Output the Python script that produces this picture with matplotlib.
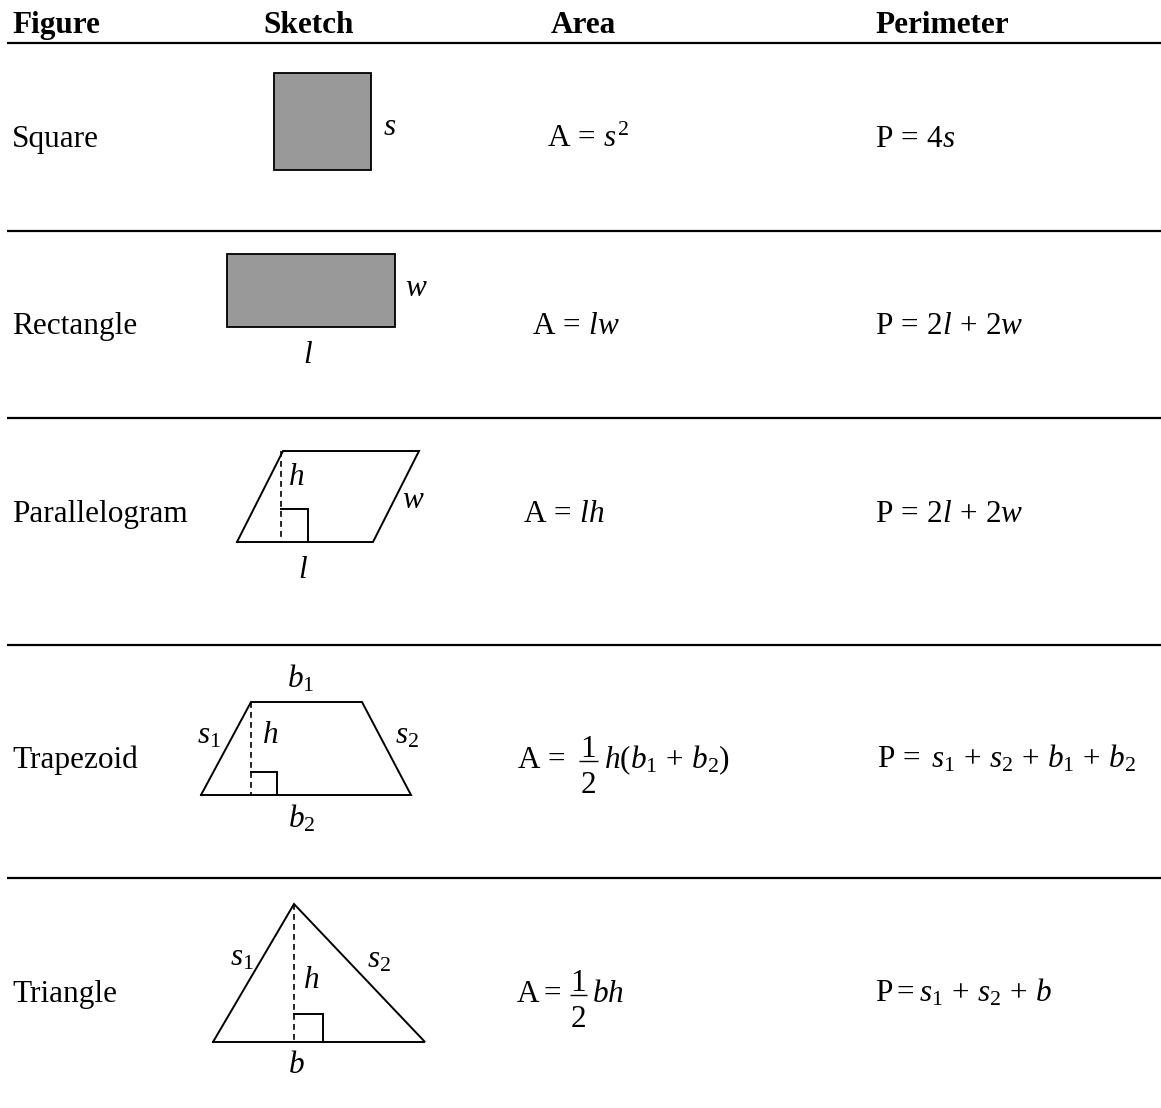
import matplotlib
matplotlib.use("Agg")
import matplotlib.pyplot as plt

plt.rcParams['font.family'] = ['Liberation Serif', 'DejaVu Serif']
plt.rcParams['mathtext.fontset'] = 'custom'
plt.rcParams['mathtext.rm'] = 'Liberation Serif'
plt.rcParams['mathtext.it'] = 'Liberation Serif:italic'
plt.rcParams['mathtext.bf'] = 'Liberation Serif:bold'

# table content
headers = ['Figure', 'Sketch', 'Area', 'Perimeter']
header_x = [12, 263, 551, 875]
figures = ['Square', 'Rectangle', 'Parallelogram', 'Trapezoid', 'Triangle']
row_baseline = [147, 334, 522, 768, 1002]
# area formulas: plain ones, or (left part, numerator, denominator, right part)
areas = [r'$\mathrm{A}\,=\,s^{2}$',
         r'$\mathrm{A}\,=\,lw$',
         r'$\mathrm{A}\,=\,lh$',
         (r'$\mathrm{A}\,=$', '1', '2', r'$h(b_{1}\,+\,b_{2})$'),
         (r'$\mathrm{A}=$', '1', '2', r'$bh$')]
area_x = [547, 532, 523, 517, 516]
# fraction bar start, bar end, start of the right part
frac_x = [None, None, None, (579, 598, 604), (570, 587, 592)]
perims = [r'$\mathrm{P}\,=\,4s$',
          r'$\mathrm{P}\,=\,2l\,+\,2w$',
          r'$\mathrm{P}\,=\,2l\,+\,2w$',
          r'$\mathrm{P}\,=\;s_{1}\,+\,s_{2}\,+\,b_{1}\,+\,b_{2}$',
          r'$\mathrm{P}=s_{1}\,+\,s_{2}\,+\,b$']
perim_x = [875, 875, 875, 877, 875]
rule_y = [43, 231, 418, 645, 878]

# sketch outlines (pixel coordinates of the page)
square_box = (274, 73, 371, 170)
rect_box = (227, 254, 395, 327)
para_pts = [(237, 542), (373, 542), (419, 451), (283, 451)]
trap_pts = [(201, 795), (411, 795), (362, 702), (251, 702)]
tri_pts = [(213, 1042), (425, 1042), (294, 904)]
heights = [(281, 451, 542), (251, 702, 795), (294, 904, 1042)]
right_marks = [(281, 308, 509, 542), (251, 277, 772, 795), (294, 323, 1014, 1042)]

# sketch labels: text, x, baseline
labels = [(r'$s$', 383, 135),
          (r'$w$', 405, 296), (r'$l$', 303, 363),
          (r'$h$', 288, 485), (r'$w$', 402, 508), (r'$l$', 298, 578),
          (r'$b_{\mathit{1}}$', 287, 688), (r'$s_{\mathit{1}}$', 197, 743),
          (r'$h$', 262, 743), (r'$s_{\mathit{2}}$', 395, 743),
          (r'$b_{\mathit{2}}$', 288, 828),
          (r'$s_{\mathit{1}}$', 230, 965), (r'$s_{\mathit{2}}$', 367, 967),
          (r'$h$', 303, 988), (r'$b$', 288, 1073)]

fig = plt.figure(figsize=(11.61, 11.08), dpi=100)
ax = fig.add_axes([0, 0, 1, 1])
ax.set_xlim(0, 1161)
ax.set_ylim(1108, 0)
ax.axis('off')

fs = 22.5
for h, x in zip(headers, header_x):
    ax.text(x, 33, h, fontsize=fs, fontweight='bold', va='baseline', ha='left')

for y in rule_y:
    ax.plot([7, 1161], [y, y], color='black', lw=1.6, solid_capstyle='butt')

for i, name in enumerate(figures):
    y = row_baseline[i]
    ax.text(12, y, name, fontsize=fs, va='baseline', ha='left')
    a = areas[i]
    if isinstance(a, str):
        ax.text(area_x[i], y, a, fontsize=fs, va='baseline', ha='left')
    else:
        left, num, den, right = a
        bx0, bx1, rx = frac_x[i]
        xc = (bx0 + bx1) / 2
        ax.text(area_x[i], y, left, fontsize=fs, va='baseline', ha='left')
        ax.plot([bx0, bx1], [y - 7, y - 7], color='black', lw=1.0, solid_capstyle='butt')
        ax.text(xc, y - 11, num, fontsize=fs, va='baseline', ha='center')
        ax.text(xc, y + 25, den, fontsize=fs, va='baseline', ha='center')
        ax.text(rx, y, right, fontsize=fs, va='baseline', ha='left')
    ax.text(perim_x[i], y, perims[i], fontsize=fs, va='baseline', ha='left')

# filled boxes
for (x0, y0, x1, y1) in [square_box, rect_box]:
    ax.fill([x0, x1, x1, x0], [y0, y0, y1, y1], facecolor='#999999',
            edgecolor='black', lw=1.3, joinstyle='miter')

# outlined polygons
for pts in [para_pts, trap_pts, tri_pts]:
    xs = [p[0] for p in pts] + [pts[0][0]]
    ys = [p[1] for p in pts] + [pts[0][1]]
    ax.plot(xs, ys, color='black', lw=1.4, solid_joinstyle='miter')

# dashed heights and right angle marks
for (x, yt, yb) in heights:
    ax.plot([x, x], [yt, yb], color='black', lw=1.2, linestyle=(0, (3.5, 2.5)))
for (x0, x1, yt, yb) in right_marks:
    ax.plot([x0, x1, x1], [yt, yt, yb], color='black', lw=1.4, solid_joinstyle='miter')

for t, x, y in labels:
    ax.text(x, y, t, fontsize=fs, va='baseline', ha='left')

plt.savefig('out.png', dpi=100)
